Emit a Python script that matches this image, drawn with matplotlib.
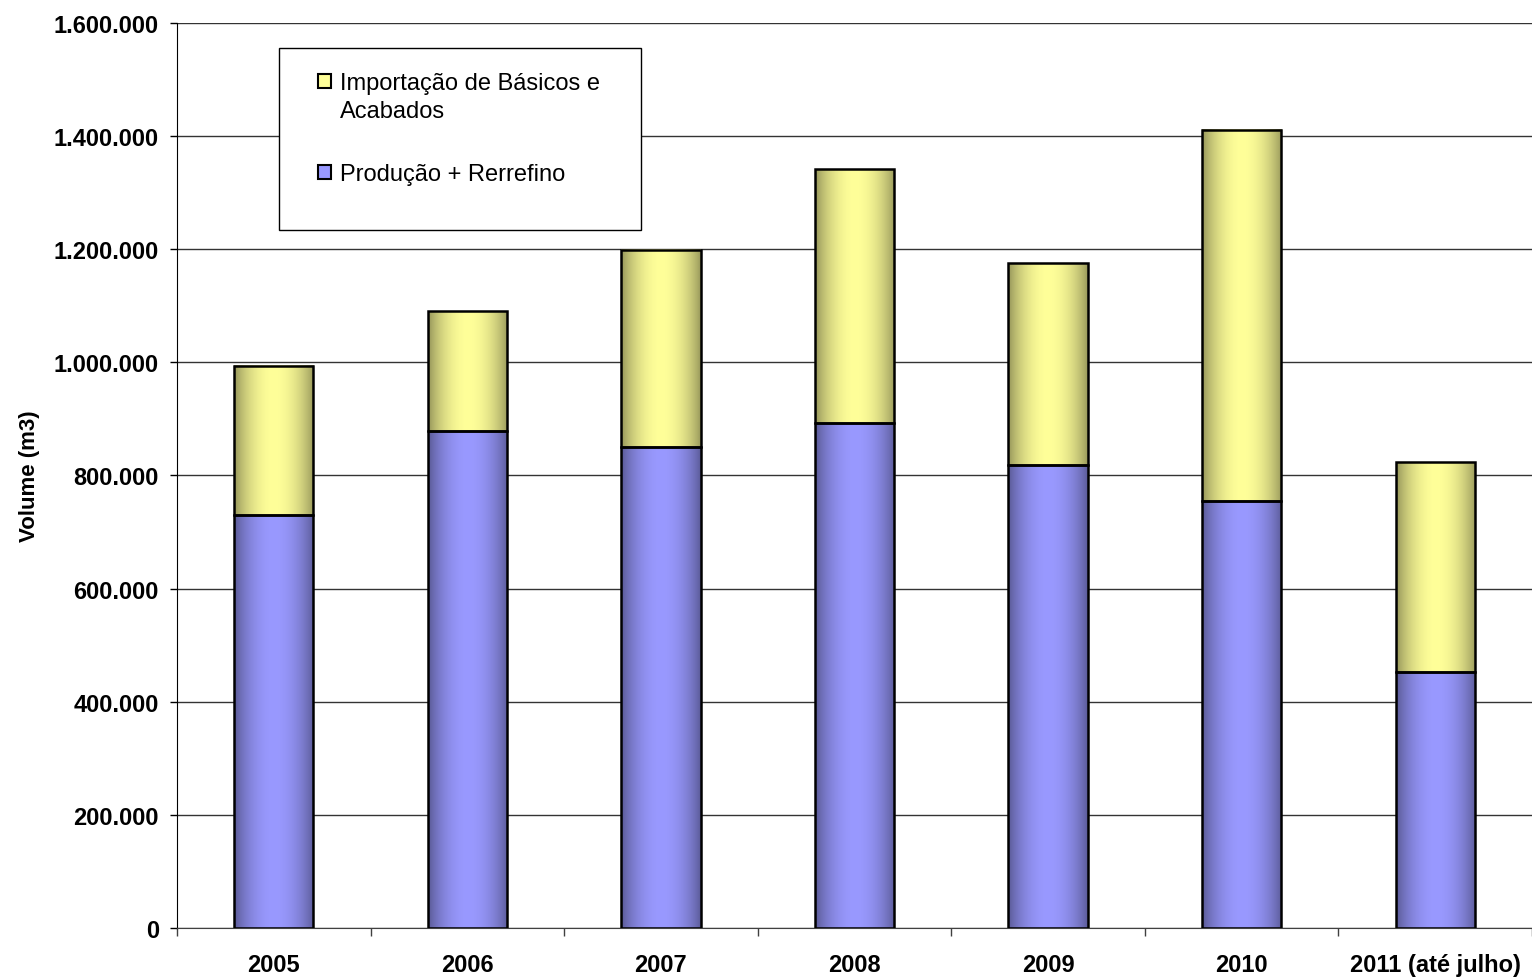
import numpy as np
import matplotlib
matplotlib.use("Agg")
import matplotlib.pyplot as plt
from matplotlib.patches import Rectangle
from matplotlib.ticker import FuncFormatter

plt.rcParams["font.family"] = ["Liberation Sans", "DejaVu Sans"]

# ---------------------------------------------------------
# Data (m3)
# ---------------------------------------------------------
years = ["2005", "2006", "2007", "2008", "2009", "2010", "2011 (até julho)"]
producao = [730000, 879000, 850000, 893000, 819000, 755000, 453000]
importacao = [264000, 212000, 349000, 449000, 357000, 656000, 371000]

label_imp = "Importação de Básicos e\nAcabados"
label_prod = "Produção + Rerrefino"

BLUE = np.array([153, 153, 255]) / 255.0
YELLOW = np.array([255, 255, 153]) / 255.0
BAR_W = 0.41


def gradient_strip(base, n=200):
    t = np.linspace(0, 1, n)
    shape = np.clip(np.sin(np.pi * (t * 0.95 + 0.02)), 0, 1) ** 0.7
    fac = 0.5 + 0.5 * shape
    return (fac[:, None] * base[None, :])[None, :, :]


def draw_bar(ax, x, bottom, height, base):
    x0, x1 = x - BAR_W / 2, x + BAR_W / 2
    ax.imshow(gradient_strip(base), extent=[x0, x1, bottom, bottom + height],
              aspect="auto", interpolation="bilinear", zorder=2)
    ax.add_patch(Rectangle((x0, bottom), BAR_W, height, fill=False,
                           edgecolor="black", linewidth=1.8, zorder=3))


fig = plt.figure(figsize=(15.32, 9.78), dpi=100)
ax = fig.add_axes([0.1155, 0.0501, 0.8845, 0.9254])

x = np.arange(len(years))
for i in x:
    draw_bar(ax, i, 0, producao[i], BLUE)
    draw_bar(ax, i, producao[i], importacao[i], YELLOW)

ax.set_xlim(-0.5, len(years) - 0.5)
ax.set_ylim(0, 1600000)
ax.set_yticks(np.arange(0, 1600001, 200000))
ax.yaxis.set_major_formatter(FuncFormatter(lambda v, p: f"{int(v):,}".replace(",", ".")))
ax.grid(True, axis="y", color="#333333", linewidth=1.0, zorder=0)
ax.set_axisbelow(True)

ax.set_xticks(x)
ax.set_xticklabels(years)
ax.set_xticks(np.arange(-0.5, len(years), 1), minor=True)
ax.tick_params(axis="x", which="major", length=0, pad=18, labelsize=17)
ax.tick_params(axis="x", which="minor", length=6, width=1, color="#404040")
ax.tick_params(axis="y", length=5, width=1, pad=8, labelsize=17)
for lab in ax.get_xticklabels() + ax.get_yticklabels():
    lab.set_fontweight("bold")

ax.set_ylabel("Volume (m3)", fontsize=16, fontweight="bold", labelpad=10)

for s in ["top", "right"]:
    ax.spines[s].set_visible(False)
ax.spines["left"].set_color("black")
ax.spines["bottom"].set_color("#404040")

# legend box (drawn by hand to match the original spacing)
tr = ax.transAxes
ax.add_patch(Rectangle((0.0753, 0.7713), 0.2671, 0.2011, transform=tr,
                       facecolor="white", edgecolor="black", linewidth=1.0,
                       zorder=5))
for col, lab, ybox, ytxt in [(YELLOW, label_imp, 0.9282, 0.8956),
                             (BLUE, label_prod, 0.8276, 0.8260)]:
    ax.add_patch(Rectangle((0.1041, ybox), 0.0099, 0.0150, transform=tr,
                           facecolor=col, edgecolor="black", linewidth=1.5,
                           zorder=6))
    ax.text(0.1203, ytxt, lab, transform=tr, fontsize=17, va="baseline",
            ha="left", linespacing=1.37, zorder=6)

fig.savefig("out.png", dpi=100)
